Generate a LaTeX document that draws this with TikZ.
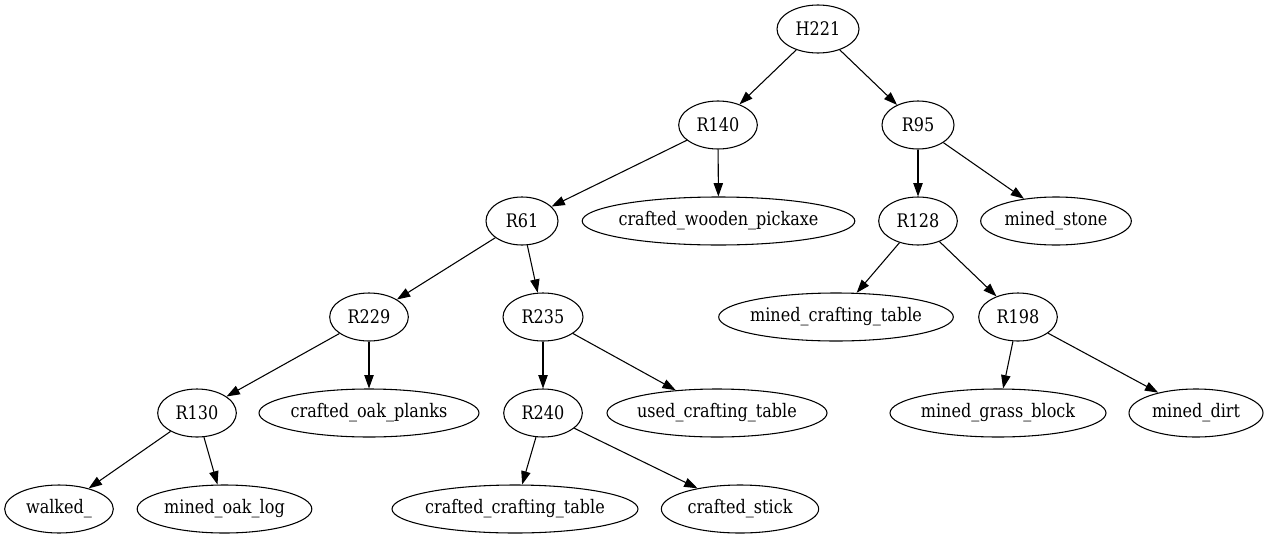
\documentclass[tikz,border=0pt]{standalone}
\usepackage{fontspec}
\setmainfont{DejaVu Serif}[FakeStretch=0.86]
\usetikzlibrary{shapes.geometric, arrows.meta}

\tikzset{
	vert/.style={ellipse, draw, line width=0.8pt, inner xsep=-4pt, inner ysep=0pt, minimum height=36pt, minimum width=#1,
		font=\fontsize{14pt}{16pt}\selectfont},
	vert/.default=59pt,
	edge/.style={line width=0.8pt, -{Triangle[length=10pt, width=7pt]}}
}

\begin{document}
\begin{tikzpicture}[x=0.75pt, y=-0.75pt]
		\useasboundingbox (0,0) rectangle (1269,539);
		% rank 0 and 1
		\node [vert=61.5pt] (h221) at (818,29) {H221};
		\node [vert] (r140) at (718,125) {R140};
		\node [vert=54pt] (r95) at (918,125) {R95};
		% rank 2
		\node [vert=54pt] (r61) at (522,221) {R61};
		\node [vert=204.5pt] (pickaxe) at (718.5,221) {crafted\_wooden\_pickaxe};
		\node [vert] (r128) at (918,221) {R128};
		\node [vert=113pt] (stone) at (1056,221) {mined\_stone};
		% rank 3
		\node [vert] (r229) at (369,317) {R229};
		\node [vert=60pt] (r235) at (543,317) {R235};
		\node [vert=176pt] (mtable) at (836,317) {mined\_crafting\_table};
		\node [vert] (r198) at (1018,317) {R198};
		% rank 4
		\node [vert] (r130) at (197,413) {R130};
		\node [vert=165pt] (planks) at (369,413) {crafted\_oak\_planks};
		\node [vert] (r240) at (543,413) {R240};
		\node [vert=165pt] (used) at (717,413) {used\_crafting\_table};
		\node [vert=162pt] (grass) at (998,413) {mined\_grass\_block};
		\node [vert=100.5pt] (dirt) at (1196,413) {mined\_dirt};
		% rank 5
		\node [vert=81.5pt] (walked) at (59,509) {walked\_};
		\node [vert=131pt] (oaklog) at (224.5,509) {mined\_oak\_log};
		\node [vert=184.5pt] (ctable) at (515,509) {crafted\_crafting\_table};
		\node [vert=118pt] (stick) at (740,509) {crafted\_stick};

		\draw [edge] (h221) -- (r140);
		\draw [edge] (h221) -- (r95);
		\draw [edge] (r140) -- (r61);
		\draw [edge] (r140) -- (pickaxe);
		\draw [edge] (r95) -- (r128);
		\draw [edge] (r95) -- (stone);
		\draw [edge] (r61) -- (r229);
		\draw [edge] (r61) -- (r235);
		\draw [edge] (r128) -- (mtable);
		\draw [edge] (r128) -- (r198);
		\draw [edge] (r229) -- (r130);
		\draw [edge] (r229) -- (planks);
		\draw [edge] (r235) -- (r240);
		\draw [edge] (r235) -- (used);
		\draw [edge] (r198) -- (grass);
		\draw [edge] (r198) -- (dirt);
		\draw [edge] (r130) -- (walked);
		\draw [edge] (r130) -- (oaklog);
		\draw [edge] (r240) -- (ctable);
		\draw [edge] (r240) -- (stick);
	\end{tikzpicture}
\end{document}
